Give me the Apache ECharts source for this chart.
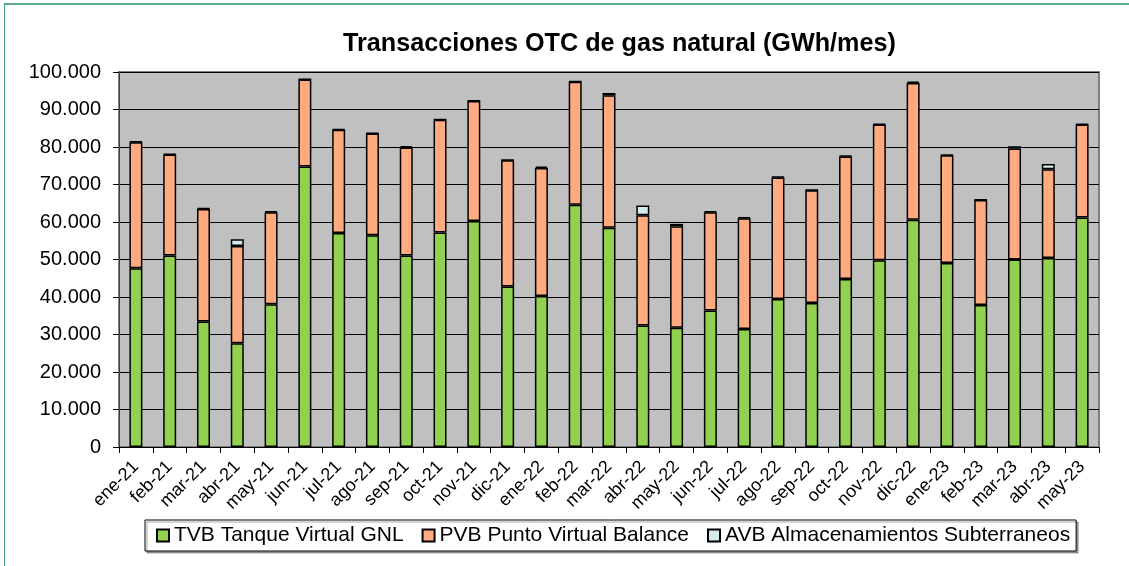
<!DOCTYPE html>
<html>
<head>
	<meta charset="utf-8"/>
	<title>Transacciones OTC de gas natural</title>
	<style type="text/css">
		html,body{
			margin: 0;
			padding: 0;
			width: 1129px;
			height: 566px;
			overflow: hidden;
			background: #fff;
		}
		#frame{
			position: absolute;
			left: 4px;
			top: 3px;
			width: 2000px;
			height: 2000px;
			border-left: 1px solid #3f9f85;
			border-top: 2px solid #5aa890;
		}
		#chart{
			position: absolute;
			left: 0;
			top: 0;
			width: 1129px;
			height: 566px;
		}
	</style>
</head>
<body>
	<div id="frame"></div>
	<div id="chart"></div>

	<script src="https://cdn.jsdelivr.net/npm/echarts@6/dist/echarts.min.js"></script>
	<script type="text/javascript">

		// meses
		var months = ['ene-21','feb-21','mar-21','abr-21','may-21','jun-21','jul-21','ago-21','sep-21','oct-21','nov-21','dic-21',
			'ene-22','feb-22','mar-22','abr-22','may-22','jun-22','jul-22','ago-22','sep-22','oct-22','nov-22','dic-22',
			'ene-23','feb-23','mar-23','abr-23','may-23'];

		// GWh/mes
		var tvb = [47700, 51100, 33500, 27700, 38100, 74800, 57100, 56500, 51100, 57200, 60300, 42800,
			40300, 64600, 58500, 32400, 31800, 36400, 31500, 39500, 38400, 44800, 49800, 60600,
			49100, 37900, 50000, 50400, 61200];
		var pvb = [33600, 26900, 30000, 25900, 24500, 23200, 27500, 27100, 28800, 30100, 32000, 33700,
			34100, 32800, 35300, 29400, 27100, 26200, 29500, 32400, 30100, 32700, 36200, 36500,
			28700, 28000, 29600, 23700, 24800];
		var avb = [200, 200, 200, 1800, 300, 100, 200, 100, 400, 100, 100, 100,
			400, 100, 600, 2600, 600, 300, 300, 200, 100, 200, 200, 400,
			200, 100, 600, 1400, 200];

		var yTicks = [0, 100000, 10000]; // min, max, interval

		var names = ['TVB Tanque Virtual GNL', 'PVB Punto Virtual Balance', 'AVB Almacenamientos Subterraneos'];

		function miles(v){
			return String(v).replace(/\B(?=(\d{3})+(?!\d))/g, '.');
		}

		var chart = echarts.init(document.getElementById('chart'));

		var barStyle = function(color){
			return {
				color: color,
				borderColor: '#000',
				borderWidth: 1.5
			};
		};

		var option = {
			animation: false,
			title: {
				text: 'Transacciones OTC de gas natural (GWh/mes)',
				left: 338,
				top: 27,
				textStyle: {
					fontFamily: 'Liberation Sans',
					fontSize: 25.2,
					fontWeight: 'bold',
					color: '#000'
				}
			},
			legend: {
				data: names,
				left: 145,
				top: 520,
				padding: [5, 6, 5, 11],
				itemGap: 18,
				itemWidth: 12,
				itemHeight: 12,
				itemTextGap: 5,
				icon: 'rect',
				backgroundColor: '#fff',
				borderColor: '#000',
				borderWidth: 1,
				shadowColor: 'rgba(0,0,0,0.35)',
				shadowOffsetX: 2,
				shadowOffsetY: 2,
				textStyle: {
					fontFamily: 'Liberation Sans',
					fontSize: 21,
					color: '#000'
				}
			},
			grid: {
				left: 119,
				right: 30,
				top: 72,
				bottom: 119,
				show: true,
				backgroundColor: '#c0c0c0',
				borderColor: '#808080',
				borderWidth: 2
			},
			xAxis: {
				type: 'category',
				data: months,
				axisLine: { lineStyle: { color: '#000', width: 1 } },
				axisTick: { show: true, length: 6, lineStyle: { color: '#000' } },
				axisLabel: {
					rotate: 45,
					margin: 17,
					interval: 0,
					fontFamily: 'Liberation Sans',
					fontSize: 18,
					color: '#000'
				}
			},
			yAxis: {
				type: 'value',
				min: yTicks[0],
				max: yTicks[1],
				interval: yTicks[2],
				axisLine: { show: true, lineStyle: { color: '#404040', width: 1 } },
				axisTick: { show: true, length: 6, lineStyle: { color: '#000' } },
				splitLine: { lineStyle: { color: '#000', width: 1 } },
				axisLabel: {
					margin: 18,
					fontFamily: 'Liberation Sans',
					fontSize: 20,
					color: '#000',
					formatter: miles
				}
			},
			series: [
				{
					name: names[0],
					type: 'bar',
					stack: 'total',
					barWidth: 13,
					itemStyle: barStyle('#92d050'),
					data: tvb
				},
				{
					name: names[1],
					type: 'bar',
					stack: 'total',
					barWidth: 13,
					itemStyle: barStyle('#ffaa7f'),
					data: pvb
				},
				{
					name: names[2],
					type: 'bar',
					stack: 'total',
					barWidth: 13,
					itemStyle: barStyle('#d4ebeb'),
					data: avb
				}
			]
		};

		chart.setOption(option);

	</script>
</body>
</html>
